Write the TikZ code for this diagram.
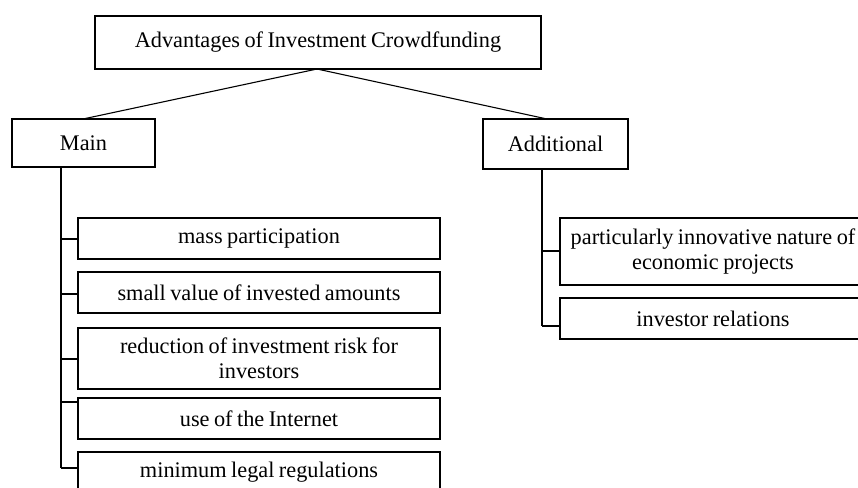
\documentclass[tikz,border=0pt]{standalone}
\usepackage{fontspec}
\setmainfont{Liberation Serif}
\newcommand\boxfontsetup{\fontsize{22.3}{25}\selectfont\spaceskip=0.2em plus 0.1em minus 0.05em\relax}
\begin{document}
\begin{tikzpicture}[x=1pt,y=-1pt,
  box/.style={draw=black, line width=1.2pt, rectangle, inner sep=0pt, align=center,
    font=\boxfontsetup, text=black},
  conn/.style={draw=black, line width=1.1pt}]
\useasboundingbox (0,0) rectangle (858,487);
\clip (0,0) rectangle (858,487);
\fill[white] (0,0) rectangle (858,487);
% top level
\node[box, minimum width=446pt, minimum height=53pt] (top) at (318,42.5) {Advantages of Investment Crowdfunding};
\node[box, minimum width=143pt, minimum height=48pt] (main) at (83.5,143) {Main};
\node[box, minimum width=145pt, minimum height=50pt] (add) at (555.5,144) {Additional};
% main items
\node[box, minimum width=362pt, minimum height=41pt] (m1) at (259,238.5) {mass participation};
\node[box, minimum width=362pt, minimum height=41pt] (m2) at (259,292.5) {small value of invested amounts};
\node[box, minimum width=362pt, minimum height=61pt] (m3) at (259,358.5) {reduction of investment risk for\\investors};
\node[box, minimum width=362pt, minimum height=41pt] (m4) at (259,418.5) {use of the Internet};
\node[box, minimum width=362pt, minimum height=41pt] (m5) at (259,472.5) {minimum legal regulations};
% additional items
\node[box, minimum width=306pt, minimum height=67pt] (a1) at (713,251.5) {particularly innovative nature of\\economic projects};
\node[box, minimum width=306pt, minimum height=41pt] (a2) at (713,318.5) {investor relations};
% connector points
\coordinate (tb) at (317,69);
\coordinate (mt) at (83,119);
\coordinate (at) at (547,119);
\coordinate (mv) at (61,167);
\coordinate (mb) at (61,468);
\coordinate (av) at (542,169);
\coordinate (ab) at (542,326);
% connectors
\draw[conn] (tb) -- (mt);
\draw[conn] (tb) -- (at);
\draw[conn] (mv) -- (mb);
\draw[conn] (61,239) -- (m1.west |- 0,239);
\draw[conn] (61,294) -- (m2.west |- 0,294);
\draw[conn] (61,359) -- (m3.west |- 0,359);
\draw[conn] (61,402) -- (m4.west |- 0,402);
\draw[conn] (mb) -- (m5.west |- mb);
\draw[conn] (av) -- (ab);
\draw[conn] (542,251) -- (a1.west |- 0,251);
\draw[conn] (ab) -- (a2.west |- ab);
\end{tikzpicture}
\end{document}
